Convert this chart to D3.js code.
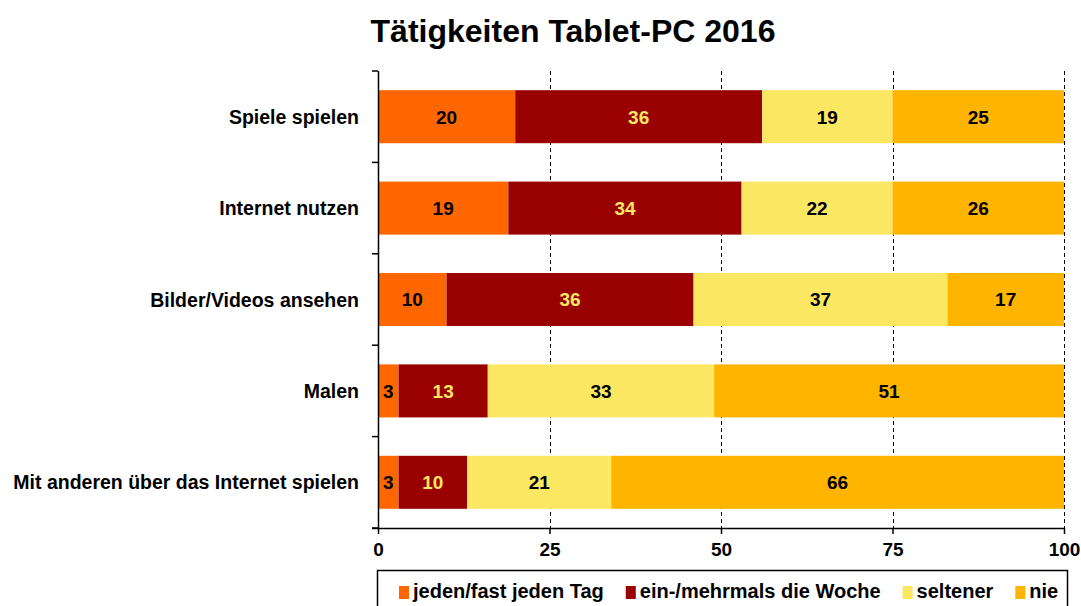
<!DOCTYPE html>
<html>
<head>
<meta charset="utf-8">
<script src="https://cdn.jsdelivr.net/npm/d3@7"></script>
<style>
	body { margin: 0; background: #fff; }
	text { font-family: "Liberation Sans", Arial, sans-serif; font-weight: bold; }
</style>
</head>
<body>
<svg id="chart"></svg>
<script>
const WIDTH = 1081;
const HEIGHT = 606;

const categories = ['Spiele spielen', 'Internet nutzen', 'Bilder/Videos ansehen', 'Malen', 'Mit anderen über das Internet spielen'];
const seriesNames = ['jeden/fast jeden Tag', 'ein-/mehrmals die Woche', 'seltener', 'nie'];
const daily = [20, 19, 10, 3, 3];
const weekly = [36, 34, 36, 13, 10];
const rarely = [19, 22, 37, 33, 21];
const never = [25, 26, 17, 51, 66];
const xTicks = [0, 25, 50, 75, 100];

const colors = ['#ff6600', '#990000', '#fce762', '#ffb400'];
const labelColors = ['#000', '#fce762', '#000', '#000'];

const margin = {top: 71, right: 17, bottom: 78, left: 378};
const innerW = WIDTH - margin.left - margin.right;
const innerH = HEIGHT - margin.top - margin.bottom;

const svg = d3.select('#chart')
	.attr('width', WIDTH)
	.attr('height', HEIGHT);

svg.append('text')
	.attr('x', 573)
	.attr('y', 42)
	.attr('text-anchor', 'middle')
	.attr('font-size', 32)
	.text('Tätigkeiten Tablet-PC 2016');

const g = svg.append('g').attr('transform', `translate(${margin.left},${margin.top})`);

// rounded shares can sum to 101, the axis stops at 100
const x = d3.scaleLinear().domain([0, 100]).range([0, innerW]).clamp(true);
const y = d3.scaleBand().domain(categories).range([0, innerH]).paddingInner(0.42).paddingOuter(0.21);
const yOuter = d3.scaleBand().domain(categories).range([0, innerH]);

const table = categories.map((c, i) => ({
	cat: c,
	[seriesNames[0]]: daily[i],
	[seriesNames[1]]: weekly[i],
	[seriesNames[2]]: rarely[i],
	[seriesNames[3]]: never[i]
}));
const stacked = d3.stack().keys(seriesNames)(table);

// dashed grid
g.append('g')
	.selectAll('line')
	.data(xTicks.slice(1))
	.enter()
	.append('line')
	.attr('x1', d => Math.round(x(d)) + 0.5)
	.attr('x2', d => Math.round(x(d)) + 0.5)
	.attr('y1', 0)
	.attr('y2', innerH)
	.attr('stroke', '#000')
	.attr('stroke-width', 1)
	.attr('stroke-dasharray', '4,3');

// bars
const layer = g.append('g')
	.selectAll('g')
	.data(stacked)
	.enter()
	.append('g')
	.attr('fill', (d, i) => colors[i]);

layer.selectAll('rect')
	.data(d => d)
	.enter()
	.append('rect')
	.attr('x', d => x(d[0]))
	.attr('y', d => y(d.data.cat))
	.attr('width', d => x(d[1]) - x(d[0]))
	.attr('height', y.bandwidth());

stacked.forEach((s, i) => {
	g.append('g')
		.selectAll('text')
		.data(s)
		.enter()
		.append('text')
		.attr('x', d => (x(d[0]) + x(d[1])) / 2)
		.attr('y', d => y(d.data.cat) + y.bandwidth() / 2)
		.attr('dy', '0.36em')
		.attr('text-anchor', 'middle')
		.attr('font-size', 19)
		.attr('fill', labelColors[i])
		.text(d => d.data[s.key]);
});

// y axis
g.append('line')
	.attr('x1', 0.5).attr('x2', 0.5)
	.attr('y1', 0).attr('y2', innerH)
	.attr('stroke', '#000').attr('stroke-width', 1.5);

const bounds = categories.map(c => yOuter(c)).concat([innerH]);
g.append('g')
	.selectAll('line')
	.data(bounds)
	.enter()
	.append('line')
	.attr('x1', -6).attr('x2', 0)
	.attr('y1', d => d).attr('y2', d => d)
	.attr('stroke', '#000').attr('stroke-width', 1.5);

g.append('g')
	.selectAll('text')
	.data(categories)
	.enter()
	.append('text')
	.attr('x', -19)
	.attr('y', d => y(d) + y.bandwidth() / 2)
	.attr('dy', '0.36em')
	.attr('text-anchor', 'end')
	.attr('font-size', 19.5)
	.text(d => d);

// x axis
const xAxis = g.append('g')
	.attr('transform', `translate(0,${innerH})`)
	.call(d3.axisBottom(x).tickValues(xTicks).tickSize(6).tickPadding(9).tickSizeOuter(0));
xAxis.select('.domain').attr('stroke-width', 1.5).attr('d', `M-6,0.5H${innerW}`);
xAxis.selectAll('line').attr('stroke-width', 1.5);
xAxis.selectAll('text')
	.attr('font-size', 19)
	.attr('font-family', '"Liberation Sans", Arial, sans-serif')
	.attr('font-weight', 'bold')
	.attr('fill', '#000');

// legend
svg.append('rect')
	.attr('x', 377.5)
	.attr('y', 570.5)
	.attr('width', 690)
	.attr('height', 60)
	.attr('fill', 'none')
	.attr('stroke', '#000')
	.attr('stroke-width', 1.5);

let lx = 399;
seriesNames.forEach((name, i) => {
	svg.append('rect')
		.attr('x', lx)
		.attr('y', 586)
		.attr('width', 10)
		.attr('height', 13)
		.attr('fill', colors[i]);
	const t = svg.append('text')
		.attr('x', lx + 14)
		.attr('y', 598)
		.attr('font-size', 20)
		.text(name);
	lx += 14 + t.node().getComputedTextLength() + 22;
});
</script>
</body>
</html>
